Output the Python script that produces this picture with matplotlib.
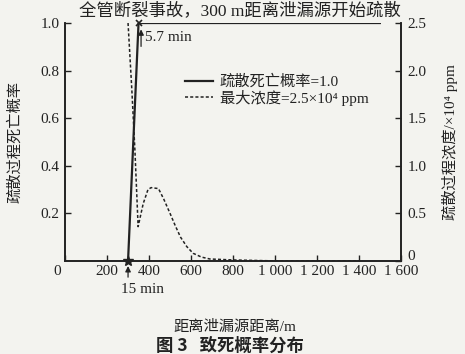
import matplotlib.pyplot as plt
import matplotlib.transforms as mtransforms

plt.rcParams['font.family'] = ['Liberation Serif', 'Noto Sans CJK SC']
plt.rcParams['font.size'] = 11

# --- dados ---
dist_prob = [300, 350, 1500]          # m
prob = [0.0, 1.0, 1.0]                # probabilidade de morte

dist_conc = [300, 318, 333, 348, 372, 395, 410, 445, 470, 500, 525, 550,
             580, 610, 650, 690, 800, 1000, 1200, 1400]
conc = [2.5, 1.8, 1.15, 0.36, 0.6, 0.75, 0.77, 0.76, 0.65, 0.5, 0.37, 0.25,
        0.15, 0.08, 0.04, 0.02, 0.01, 0.0, 0.0, 0.0]   # x10^4 ppm

x_ticks = [0, 200, 400, 600, 800, 1000, 1200, 1400, 1600]
x_labels = ['0', '200', '400', '600', '800', '1 000', '1 200', '1 400', '1 600']
y_ticks = [0.2, 0.4, 0.6, 0.8, 1.0]
y2_ticks = [0, 0.5, 1.0, 1.5, 2.0, 2.5]
y2_labels = ['0', '0.5', '1.0', '1.5', '2.0', '2.5']

ink = '#222222'
bg = '#f3f3ef'

fig = plt.figure(figsize=(4.65, 3.54), dpi=100, facecolor=bg)
ax = fig.add_axes([0.140, 0.263, 0.722, 0.672])
ax.set_facecolor('none')
ax2 = ax.twinx()

l1, = ax.plot(dist_prob, prob, color=ink, lw=1.6, label='疏散死亡概率=1.0')
l2, = ax2.plot(dist_conc, conc, color=ink, lw=1.1, ls=(0, (2, 1.4)),
               label='最大浓度=2.5×10⁴ ppm')

ax.plot([300], [0], marker='*', color=ink, ms=7, clip_on=False)
ax.plot([350], [1.0], marker='x', color=ink, ms=5, mew=1.2, clip_on=False)

ax.set_xlim(0, 1600)
ax.set_ylim(0, 1.0)
ax2.set_ylim(0, 2.5)

ax.set_xticks(x_ticks)
ax.set_xticklabels(x_labels)
ax.set_yticks(y_ticks)
ax2.set_yticks(y2_ticks)
ax2.set_yticklabels(y2_labels)

for a in (ax, ax2):
    a.spines['top'].set_visible(False)
    for s in a.spines.values():
        s.set_color(ink)
        s.set_linewidth(1.2)
    a.tick_params(direction='in', length=4, width=1, colors=ink, labelcolor=ink)
ax.tick_params(axis='y', pad=4)
ax.tick_params(axis='x', pad=3)
ax2.tick_params(axis='y', pad=5)

# desloca o "0" do eixo x para a esquerda e o "0" da direita para cima
lbl0 = ax.get_xticklabels()[0]
lbl0.set_transform(lbl0.get_transform() +
                   mtransforms.ScaledTranslation(-8 / 100, 0, fig.dpi_scale_trans))
r0 = ax2.get_yticklabels()[0]
r0.set_transform(r0.get_transform() +
                 mtransforms.ScaledTranslation(0, 6 / 100, fig.dpi_scale_trans))

ax.set_ylabel('疏散过程死亡概率', color=ink, labelpad=13)
ax2.set_ylabel('疏散过程浓度/×10⁴ ppm', color=ink, labelpad=11)

ax.legend(handles=[l1, l2], loc='upper left', bbox_to_anchor=(0.34, 0.81),
          frameon=False, handlelength=1.8, handletextpad=0.45,
          labelspacing=0.05, borderaxespad=0, labelcolor=ink)

# --- anotações ---
ax.annotate('', xy=(362, 0.985), xytext=(362, 0.89),
            arrowprops=dict(arrowstyle='-|>', color=ink, lw=0.9,
                            mutation_scale=8))
ax.text(382, 0.94, '5.7 min', color=ink, va='center', ha='left')

ax.annotate('', xy=(300, -0.01), xytext=(300, -0.08),
            arrowprops=dict(arrowstyle='-|>', color=ink, lw=0.9,
                            mutation_scale=8), annotation_clip=False)
ax.text(268, -0.095, '15 min', color=ink, va='top', ha='left', clip_on=False)

fig.text(0.516, 0.966, '全管断裂事故，300 m距离泄漏源开始疏散', ha='center',
         va='center', color=ink, fontsize=12.5)
fig.text(0.505, 0.077, '距离泄漏源距离/m', ha='center', va='center', color=ink)
fig.text(0.495, 0.022, '图 3   致死概率分布', ha='center', va='center',
         color=ink, fontweight='bold', fontsize=12.5,
         family=['Noto Sans CJK SC'])

fig.savefig('out.png', dpi=100, facecolor=bg)
